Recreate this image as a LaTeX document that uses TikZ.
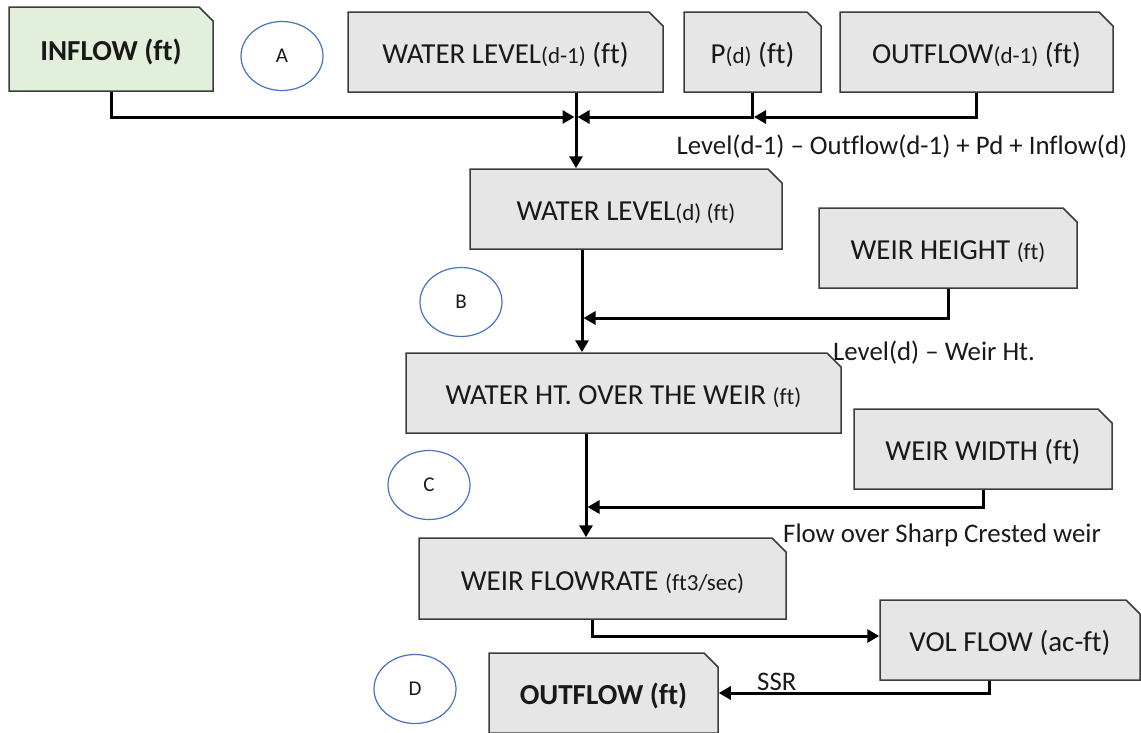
\documentclass[tikz,border=0pt]{standalone}
\usepackage{fontspec}
\setmainfont{Carlito}[Ligatures={TeX, NoCommon}]
\usetikzlibrary{shapes.misc, shapes.geometric, arrows.meta, calc}
\definecolor{FlowGrey}{RGB}{230, 230, 230}
\definecolor{FlowGreen}{RGB}{226, 239, 218}
\definecolor{FlowEdge}{RGB}{60, 60, 60}
\definecolor{FlowBlue}{RGB}{68, 114, 196}
\definecolor{FlowInk}{RGB}{25, 25, 25}
\newcommand{\boxfont}{\fontsize{29}{33}\selectfont}
\newcommand{\notefont}{\fontsize{26.8}{30}\selectfont}
\newcommand{\tagfont}{\fontsize{21}{24}\selectfont}
\newcommand{\smallpart}[1]{{\fontsize{23}{26}\selectfont #1}}

\tikzset{
    stage/.style={chamfered rectangle, chamfered rectangle corners=north east,
        chamfered rectangle xsep=7pt, chamfered rectangle ysep=7pt,
        draw=FlowEdge, line width=1.5pt, fill=FlowGrey, inner sep=0pt,
        minimum height=80pt, text=FlowInk, font=\boxfont,
        text height=29pt, text depth=6pt},
    tagmark/.style={ellipse, draw=FlowBlue, line width=1.2pt, minimum width=82pt,
        minimum height=69pt, inner sep=0pt, font=\tagfont, text=FlowInk},
    note/.style={font=\notefont, text=FlowInk, inner sep=0pt},
    flow/.style={draw=black, line width=3pt, -{Triangle[length=12pt, width=13pt]}}
}

\begin{document}
\begin{tikzpicture}[x=1pt, y=-1pt]

    \useasboundingbox (0,0) rectangle (1141,732);

    % --- Inputs (top row) ---
    \node[stage, fill=FlowGreen, minimum width=204pt, minimum height=84pt] (inflow) at (111,49) {\bfseries INFLOW (ft)};
    \node[stage, minimum width=315pt] (levelprev) at (505.5,52) {WATER LEVEL\smallpart{(d-1)} (ft)};
    \node[stage, minimum width=137pt] (precip) at (752.5,52) {P\smallpart{(d)} (ft)};
    \node[stage, minimum width=273pt] (outprev) at (976.5,52) {OUTFLOW\smallpart{(d-1)} (ft)};

    % --- Calculation chain ---
    \node[stage, minimum width=312pt] (level) at (626,209) {WATER LEVEL\smallpart{(d) (ft)}\hspace{26pt}};
    \node[stage, minimum width=258pt] (weirht) at (948,248) {WEIR HEIGHT \smallpart{(ft)}};
    \node[stage, minimum width=435pt] (overweir) at (623.5,393) {WATER HT. OVER THE WEIR \smallpart{(ft)}};
    \node[stage, minimum width=258pt] (weirwd) at (983,449) {WEIR WIDTH (ft)};
    \node[stage, minimum width=367pt, minimum height=81pt] (flowrate) at (602.5,578.5) {WEIR FLOWRATE \smallpart{(ft3/sec)}};
    \node[stage, minimum width=260pt] (volflow) at (1010,640) {VOL FLOW (ac-ft)};
    \node[stage, minimum width=229pt] (outflow) at (603.5,693) {\bfseries OUTFLOW (ft)};

    % --- Step markers ---
    \foreach \tag/\cx/\cy in {A/282/56, B/461/302, C/429/485, D/415/689} {
        \node[tagmark] (mark\tag) at (\cx,\cy) {\tag};
    }

    % --- Junctions on the main spine ---
    \coordinate (j1) at (576,117);
    \coordinate (j2) at (582,318);
    \coordinate (j3) at (586,507);

    % --- Connectors ---
    \draw[flow] (inflow.south) |- ([xshift=-1.5pt]j1);
    \draw[flow] (precip.south) |- ([xshift=1.5pt]j1);
    \draw[flow] (outprev.south) |- ([xshift=1.5pt]precip.south |- j1);
    \draw[flow] (levelprev.south -| j1) -- (level.north -| j1);

    \draw[flow] (weirht.south) |- ([xshift=1.5pt]j2);
    \draw[flow] (level.south -| j2) -- (overweir.north -| j2);

    \draw[flow] (weirwd.south) |- ([xshift=1.5pt]j3);
    \draw[flow] (overweir.south -| j3) -- (flowrate.north -| j3);

    \draw[flow] ([xshift=-10.5pt]flowrate.south) |- ([yshift=4pt]volflow.west);
    \draw[flow] ([xshift=-21pt]volflow.south) |- (outflow.east);

    % --- Equations ---
    \node[note] (eqlevel) at (902,147) {Level(d-1) -- Outflow(d-1) + Pd + Inflow(d)};
    \node[note, anchor=west] (eqweir) at (833,353) {Level(d) -- Weir Ht.};
    \node[note, anchor=west] (eqflow) at (783,535) {Flow over Sharp Crested weir};
    \node[note, anchor=west] (ssr) at (757,682) {SSR};

\end{tikzpicture}
\end{document}
